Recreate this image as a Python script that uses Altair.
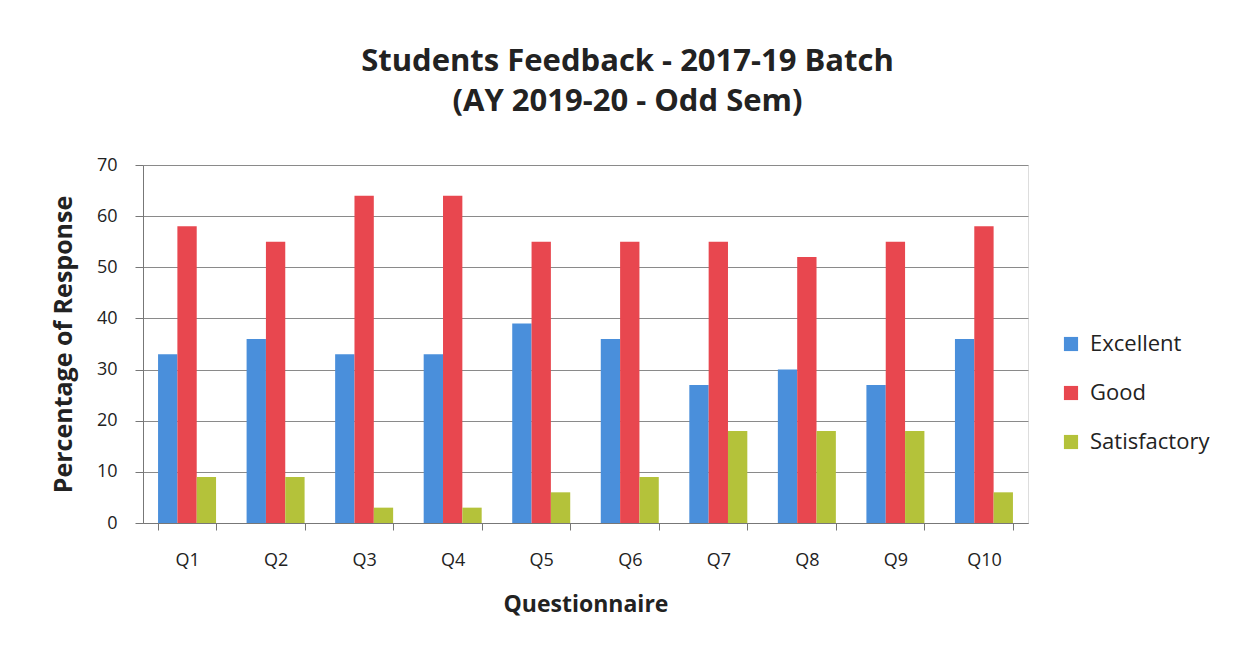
import altair as alt
import pandas as pd

questions = ["Q1", "Q2", "Q3", "Q4", "Q5", "Q6", "Q7", "Q8", "Q9", "Q10"]
excellent = [33, 36, 33, 33, 39, 36, 27, 30, 27, 36]
good = [58, 55, 64, 64, 55, 55, 55, 52, 55, 58]
satisfactory = [9, 9, 3, 3, 6, 9, 18, 18, 18, 6]
series = ["Excellent", "Good", "Satisfactory"]
colors = ["#4a8fdb", "#e8474f", "#b4c23a"]

rows = []
for name, vals in zip(series, [excellent, good, satisfactory]):
    for q, v in zip(questions, vals):
        rows.append({"Question": q, "Series": name, "Value": v})
df = pd.DataFrame(rows)

FONT = "Open Sans"

chart = alt.Chart(df).mark_bar().encode(
    x=alt.X("Question:N", sort=questions,
            scale=alt.Scale(paddingInner=0.345, paddingOuter=0.17),
            axis=alt.Axis(title="Questionnaire", labelAngle=0, tickBand="extent",
                          labelFontSize=18, labelColor="#222", labelFont=FONT,
                          labelPadding=21, tickSize=7, tickColor="#777",
                          domainColor="#777", titleFontSize=23, titleFont=FONT,
                          titleFontWeight="bold", titleColor="#222", titlePadding=24,
                          grid=False)),
    xOffset=alt.XOffset("Series:N", sort=series, scale=alt.Scale(paddingInner=0, paddingOuter=0)),
    y=alt.Y("Value:Q", scale=alt.Scale(domain=[0, 70], nice=False),
            axis=alt.Axis(title="Percentage of Response", values=list(range(0, 71, 10)),
                          labelFontSize=18, labelColor="#222", labelFont=FONT,
                          labelPadding=18, tickSize=8, tickColor="#777",
                          domainColor="#777", gridColor="#8a8a8a", gridWidth=1,
                          titleFontSize=25, titleFont=FONT, titleFontWeight="bold",
                          titleColor="#222", titlePadding=20)),
    color=alt.Color("Series:N", sort=series,
                    scale=alt.Scale(domain=series, range=colors),
                    legend=alt.Legend(title=None, orient="none", legendX=917, legendY=168,
                                      symbolType="square", symbolSize=200,
                                      symbolStrokeWidth=0, labelFontSize=22,
                                      labelFont=FONT, labelColor="#222",
                                      rowPadding=27, labelOffset=8)),
).properties(
    width=885,
    height=358,
    title=alt.TitleParams(text=["Students Feedback - 2017-19 Batch", "(AY 2019-20 - Odd Sem)"],
                          fontSize=31, font=FONT, fontWeight="bold", color="#222",
                          anchor="middle", lineHeight=40, offset=38, dx=42),
    autosize=alt.AutoSizeParams(type="none"),
    padding={"left": 135, "top": 157, "right": 197, "bottom": 115},
).configure_view(stroke=None).configure(background="white")

chart.save("out.html", embed_options={"renderer": "svg", "actions": False})
